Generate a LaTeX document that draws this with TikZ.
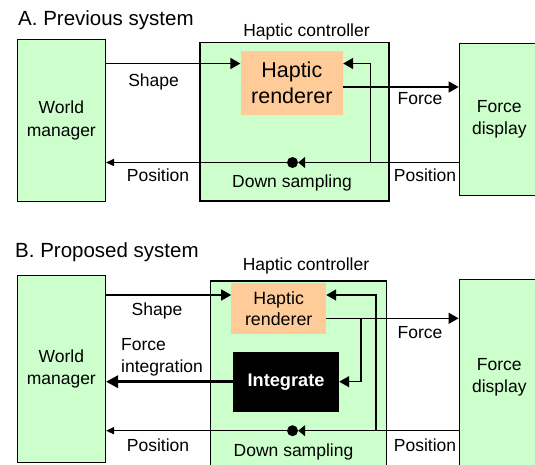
\documentclass[tikz,border=0pt]{standalone}
\usepackage{fontspec}
\setmainfont{Liberation Sans}
\usetikzlibrary{arrows.meta,calc}
\definecolor{boxgreen}{HTML}{CCFFCC}
\definecolor{peach}{HTML}{FFCC99}
\begin{document}
\begin{tikzpicture}[x=1pt,y=-1pt,
  gbox/.style={draw=black, line width=1.4pt, fill=boxgreen, inner sep=0pt, align=center,
    font=\fontsize{17.5}{22.3}\selectfont},
  rbox/.style={fill=peach, inner sep=0pt, align=center},
  ibox/.style={fill=black, text=white, inner sep=0pt, font=\bfseries\fontsize{18.2}{22}\selectfont},
  lbl/.style={inner sep=0pt, font=\fontsize{17.5}{21}\selectfont},
  ttl/.style={inner sep=0pt, anchor=west, font=\fontsize{20.5}{24}\selectfont},
  dsdot/.style={circle, fill=black, inner sep=0pt, minimum size=11pt},
  arr/.style={line width=1.5pt, -{Triangle[length=10pt,width=11pt]}},
  arrsm/.style={line width=1.5pt, -{Triangle[length=8pt,width=7pt]}},
  arrds/.style={line width=1.5pt, -{Triangle[length=7pt,width=11pt]}},
  arrthick/.style={line width=3pt, -{Triangle[length=12pt,width=12pt]}},
]
\useasboundingbox (0,0) rectangle (535,465);
\clip (0,0) rectangle (535,465);
\fill[white] (0,0) rectangle (535,465);

% ---------------- A ----------------
\node[ttl] (titleA) at (18,20) {A. Previous system};
\node[gbox, minimum width=88pt, minimum height=162pt] (wmA) at (61.3,120.5) {World\\manager};
\node[gbox, minimum width=189pt, minimum height=158.7pt] (hcA) at (294.5,121.65) {};
\node[lbl] (hclA) at (306.5,32.3) {Haptic controller};
\node[rbox, minimum width=102.4pt, minimum height=64pt, font=\fontsize{21.5}{25.7}\selectfont] (hrA) at (291.8,83) {Haptic\\renderer};
\node[gbox, minimum width=80pt, minimum height=152.4pt] (fdA) at (499.3,119.5) {Force\\display};

\coordinate (sA) at (0,63.5);
\coordinate (fA) at (0,87);
\coordinate (pA) at (0,162.5);
\coordinate (fbA) at (370.5,162.5);
\node[dsdot] (dsA) at (292.5,162.5) {};

\draw[arr] (wmA.east |- sA) -- (hrA.west |- sA);
\draw[arr] (hrA.east |- fA) -- (fdA.west |- fA);
\draw[arrds] (fdA.west |- pA) -- (dsA.east);
\draw[arrsm] (dsA.west) -- (wmA.east |- pA);
\draw[arr] (fbA) |- (hrA.east |- sA);

\node[lbl] (shapeA) at (153.6,81.7) {Shape};
\node[lbl] (forceA) at (420,99) {Force};
\node[lbl] (posLA) at (158,175) {Position};
\node[lbl] (posRA) at (425,175) {Position};
\node[lbl] (dsLA) at (292,183.3) {Down sampling};

% ---------------- B ----------------
\node[ttl] (titleB) at (15,251.7) {B. Proposed system};
\node[gbox, minimum width=88pt, minimum height=187pt] (wmB) at (61.3,369.2) {World\\manager};
\node[gbox, minimum width=176.1pt, minimum height=194pt] (hcB) at (298.65,378) {};
\node[lbl] (hclB) at (306,266) {Haptic controller};
\node[rbox, minimum width=94.6pt, minimum height=50.4pt, font=\fontsize{17.8}{21}\selectfont] (hrB) at (278.7,308.5) {Haptic\\renderer};
\node[ibox, minimum width=106pt, minimum height=59.4pt] (intB) at (286,382) {Integrate};
\node[gbox, minimum width=80pt, minimum height=195.7pt] (fdB) at (499.3,377.15) {Force\\display};

\coordinate (sB) at (0,295);
\coordinate (fB) at (0,318.3);
\coordinate (iB) at (0,381.7);
\coordinate (pB) at (0,430.7);
\coordinate (brB) at (361,318.3);
\coordinate (fbB) at (376,430.7);
\node[dsdot] (dsB) at (292.5,430.7) {};

\draw[arr] (wmB.east |- sB) -- (hrB.west |- sB);
\draw[arr] (hrB.east |- fB) -- (fdB.west |- fB);
\draw[arr] (brB) |- (intB.east |- iB);
\draw[arrthick] (intB.west |- iB) -- (wmB.east |- iB);
\draw[arrds] (fdB.west |- pB) -- (dsB.east);
\draw[arrsm] (dsB.west) -- (wmB.east |- pB);
\draw[arr] (fbB) |- (hrB.east |- sB);

\node[lbl] (shapeB) at (157,311) {Shape};
\node[lbl] (forceB) at (420,332.7) {Force};
\node[lbl, anchor=west, align=left, font=\fontsize{17.5}{21.7}\selectfont] (fintB) at (121,357) {Force\\integration};
\node[lbl] (posLB) at (158,445) {Position};
\node[lbl] (posRB) at (425,445) {Position};
\node[lbl] (dsLB) at (293.5,451.7) {Down sampling};
\end{tikzpicture}
\end{document}
